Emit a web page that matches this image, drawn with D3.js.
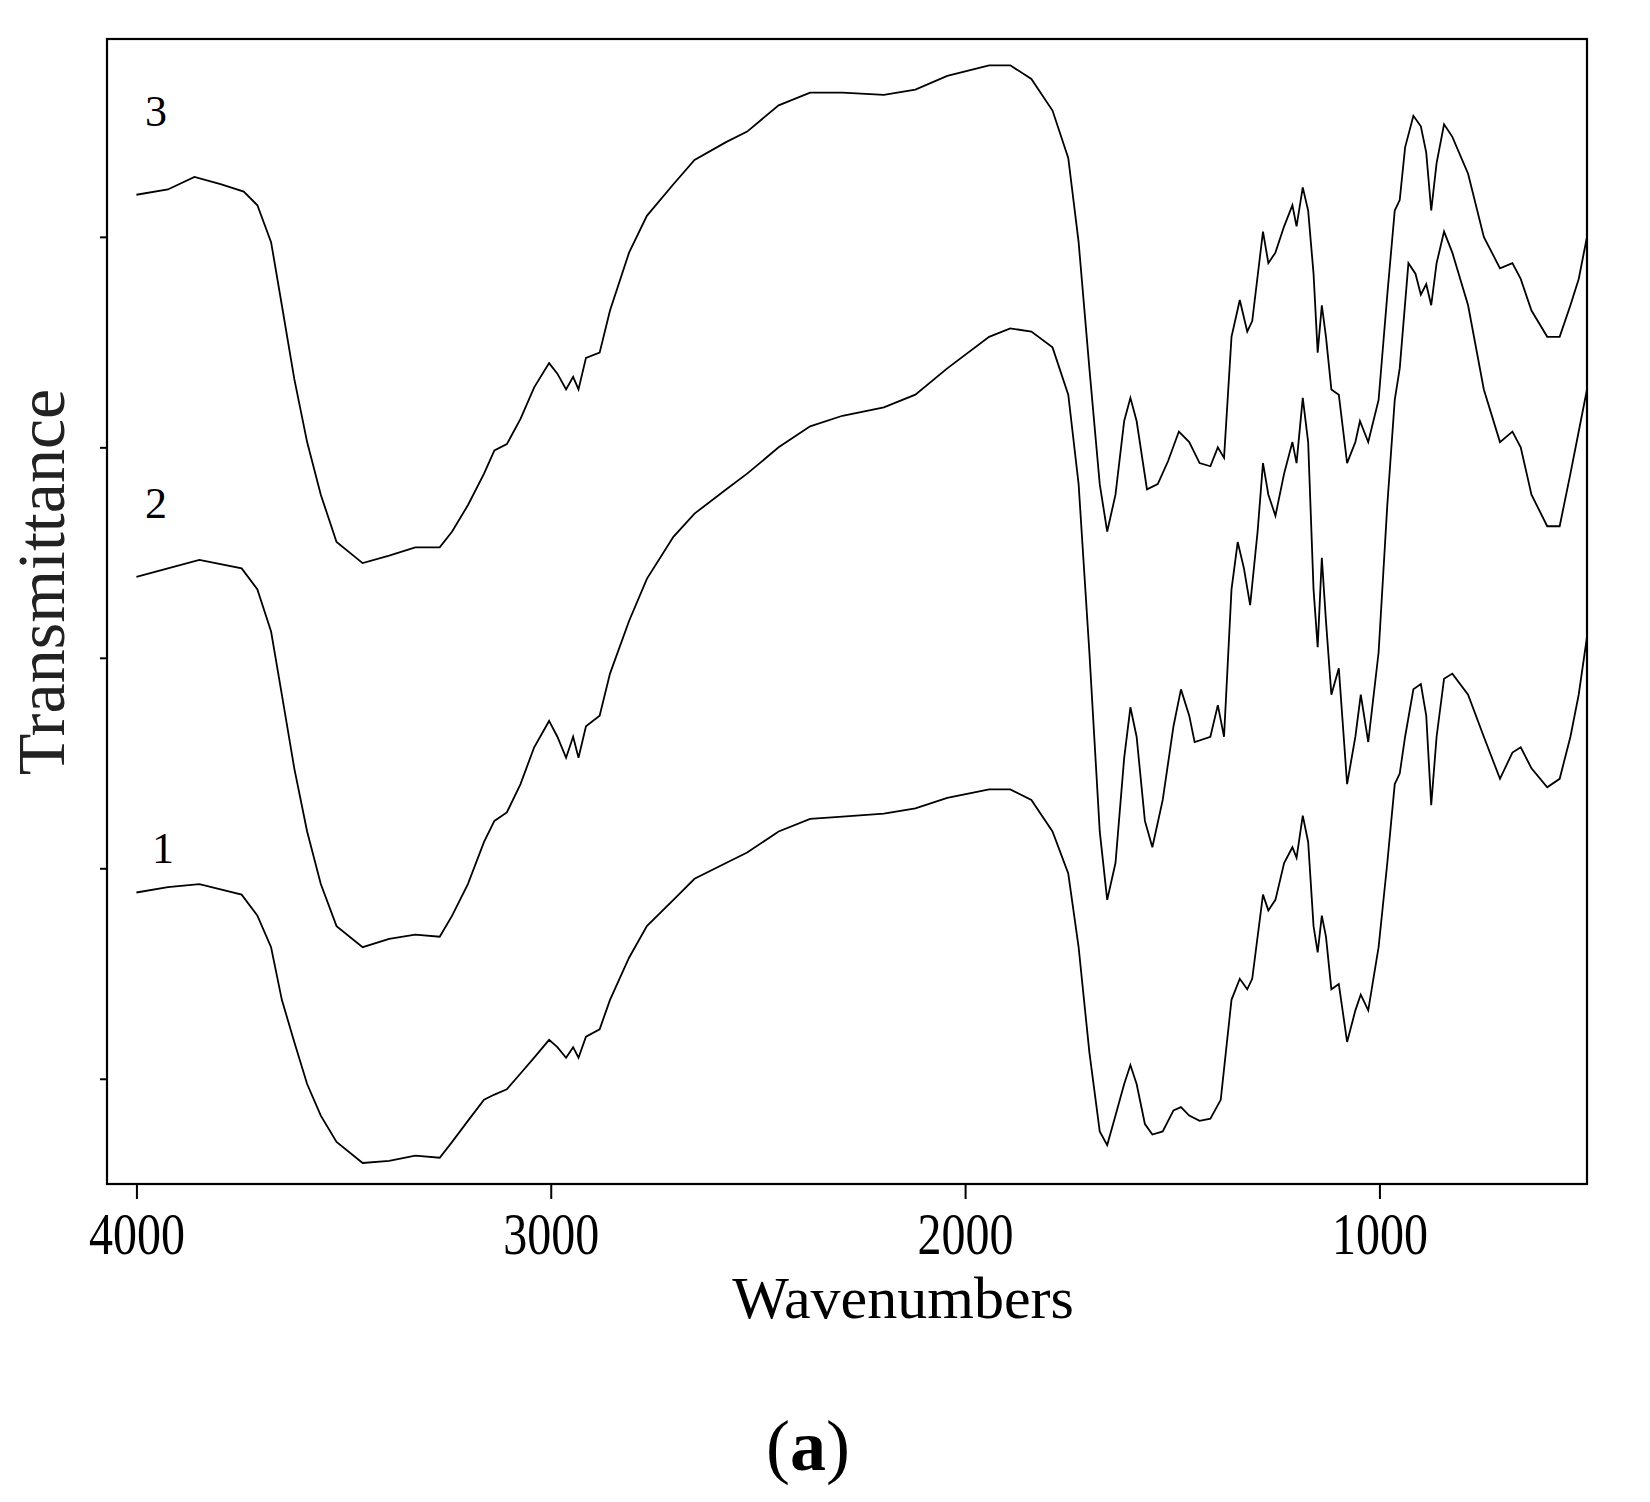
<!DOCTYPE html>
<html><head><meta charset="utf-8">
<script src="https://cdn.jsdelivr.net/npm/d3@7"></script>
<style>body{margin:0;background:#fff}text{font-family:"Liberation Serif","DejaVu Serif",serif}</style>
</head><body><svg id="chart" width="1650" height="1502"></svg>
<script>
// IR spectra, [wavenumber, transmittance]
const spectrum3 = [[4000,94.0],[3924,94.5],[3860,95.7],[3797,95.0],[3741,94.3],[3708,93.0],[3675,89.5],[3649,83.5],[3619,76.5],[3588,70.5],[3555,65.5],[3517,61.0],[3454,59.0],[3390,59.7],[3327,60.5],[3268,60.5],[3238,62.0],[3200,64.5],[3161,67.5],[3136,69.7],[3106,70.3],[3073,72.7],[3040,75.7],[3004,78.0],[2984,77.0],[2963,75.5],[2946,76.7],[2933,75.5],[2915,78.5],[2882,79.0],[2857,83.0],[2811,88.5],[2768,92.0],[2704,95.0],[2653,97.3],[2577,99.0],[2526,100.0],[2450,102.5],[2374,103.7],[2296,103.7],[2196,103.5],[2120,104.0],[2043,105.3],[1942,106.3],[1891,106.3],[1840,105.0],[1789,102.0],[1751,97.5],[1726,89.5],[1700,77.5],[1675,66.5],[1657,62.0],[1637,65.5],[1616,72.5],[1601,74.7],[1586,72.5],[1561,66.0],[1535,66.5],[1510,68.7],[1484,71.5],[1459,70.5],[1434,68.5],[1408,68.2],[1390,70.0],[1375,69.0],[1357,80.5],[1337,84.0],[1319,81.0],[1307,82.0],[1281,90.5],[1268,87.5],[1251,88.5],[1230,91.0],[1210,93.0],[1200,91.0],[1185,94.7],[1172,92.5],[1159,86.5],[1149,79.0],[1139,83.5],[1129,80.5],[1116,75.5],[1098,75.0],[1078,68.5],[1058,70.5],[1047,72.5],[1027,70.5],[1002,74.5],[981,84.5],[963,92.5],[951,93.5],[938,98.5],[918,101.5],[900,100.5],[887,98.0],[875,92.5],[862,97.0],[844,100.7],[824,99.5],[786,96.0],[748,90.0],[709,87.0],[679,87.5],[659,86.0],[633,83.0],[595,80.5],[565,80.5],[539,83.5],[519,86.0],[499,90.0]];

const spectrum2 = [[4000,57.7],[3924,58.5],[3848,59.3],[3746,58.5],[3708,56.5],[3675,52.5],[3649,46.5],[3619,39.5],[3588,33.5],[3555,28.5],[3517,24.5],[3454,22.5],[3390,23.3],[3327,23.7],[3268,23.5],[3238,25.5],[3200,28.5],[3161,32.5],[3136,34.5],[3106,35.3],[3073,38.0],[3040,41.5],[3004,44.0],[2984,42.5],[2963,40.5],[2946,42.5],[2933,40.5],[2915,43.5],[2882,44.5],[2857,48.5],[2811,53.5],[2768,57.5],[2704,61.5],[2653,63.7],[2577,66.0],[2526,67.5],[2450,70.0],[2374,72.0],[2296,73.0],[2196,73.8],[2120,75.0],[2043,77.5],[1942,80.5],[1891,81.3],[1840,81.0],[1789,79.5],[1751,75.0],[1726,66.5],[1700,50.5],[1675,33.5],[1657,27.0],[1637,30.5],[1616,40.5],[1601,45.3],[1586,42.5],[1566,34.5],[1548,32.0],[1523,36.5],[1497,43.5],[1479,47.0],[1459,44.5],[1446,42.0],[1408,42.5],[1390,45.5],[1375,42.5],[1357,56.5],[1342,61.0],[1327,58.5],[1312,55.0],[1294,62.0],[1281,68.5],[1268,65.5],[1251,63.5],[1230,67.5],[1210,70.5],[1200,68.5],[1185,74.7],[1172,70.5],[1159,56.5],[1149,51.0],[1139,59.5],[1129,53.5],[1116,46.5],[1098,49.0],[1078,38.0],[1058,42.5],[1045,46.5],[1027,42.0],[1002,50.5],[981,64.5],[963,74.5],[951,77.5],[930,87.5],[913,86.5],[900,84.5],[887,85.5],[875,83.5],[862,87.5],[844,90.5],[824,88.5],[786,83.5],[748,75.5],[709,70.5],[679,71.5],[659,70.0],[633,65.5],[595,62.5],[565,62.5],[539,67.5],[519,71.5],[499,75.5]];

const spectrum1 = [[4000,27.7],[3924,28.2],[3848,28.5],[3746,27.5],[3708,25.5],[3675,22.5],[3649,17.5],[3619,13.5],[3588,9.5],[3555,6.5],[3517,4.0],[3454,2.0],[3390,2.2],[3327,2.7],[3268,2.5],[3238,4.0],[3200,6.0],[3161,8.0],[3136,8.5],[3106,9.0],[3073,10.5],[3040,12.0],[3004,13.7],[2984,13.0],[2963,12.0],[2946,13.0],[2933,12.0],[2915,14.0],[2882,14.7],[2857,17.5],[2811,21.5],[2768,24.5],[2704,27.0],[2653,29.0],[2577,30.5],[2526,31.5],[2450,33.5],[2374,34.7],[2296,34.9],[2196,35.2],[2120,35.7],[2043,36.7],[1942,37.5],[1891,37.5],[1840,36.5],[1789,33.5],[1751,29.5],[1726,22.5],[1700,12.5],[1675,5.0],[1657,3.7],[1637,6.5],[1616,9.5],[1601,11.3],[1586,9.5],[1566,5.7],[1548,4.7],[1523,5.0],[1497,7.0],[1479,7.3],[1459,6.5],[1434,6.0],[1408,6.2],[1383,8.0],[1357,17.5],[1337,19.5],[1319,18.5],[1307,19.5],[1281,27.5],[1268,26.0],[1251,27.0],[1230,30.5],[1210,32.0],[1200,31.0],[1185,35.0],[1172,32.5],[1159,24.5],[1149,22.0],[1139,25.5],[1129,23.5],[1116,18.5],[1098,19.0],[1078,13.5],[1058,16.5],[1045,18.0],[1027,16.5],[1002,22.5],[981,30.5],[963,38.0],[951,39.0],[938,42.5],[918,47.0],[900,47.5],[887,44.5],[875,36.0],[862,42.5],[844,48.0],[824,48.5],[786,46.5],[748,42.5],[709,38.5],[679,41.0],[659,41.5],[633,39.5],[595,37.7],[565,38.5],[539,42.5],[519,46.5],[499,52.0]];

const seriesNames = ['1', '2', '3'];
const xTicks = [4000, 3000, 2000, 1000];
const yTicks = [10, 30, 50, 70, 90];

const svg = d3.select('#chart');
const L = 107, R = 1587, T = 39, B = 1184;

const x = d3.scaleLinear().domain([4071, 499]).range([L, R]);
const y = d3.scaleLinear().domain([0, 108.8]).range([B, T]);

const line = d3.line().x(d => x(d[0])).y(d => y(d[1]));

[spectrum1, spectrum2, spectrum3].forEach(s => {
  svg.append('path').attr('d', line(s))
    .attr('fill', 'none').attr('stroke', '#000').attr('stroke-width', 1.8);
});

svg.append('rect').attr('x', L).attr('y', T).attr('width', R - L).attr('height', B - T)
  .attr('fill', 'none').attr('stroke', '#000').attr('stroke-width', 2.2);

const xAxis = svg.append('g').attr('transform', `translate(0,${B})`)
  .call(d3.axisBottom(x).tickValues(xTicks).tickFormat(d3.format('d'))
    .tickSize(15).tickSizeOuter(0).tickPadding(12));
xAxis.select('.domain').remove();
xAxis.selectAll('line').attr('stroke-width', 2);
xAxis.selectAll('text').attr('font-size', 60).attr('fill', '#000')
  .attr('font-family', '"Liberation Serif",serif').attr('transform', 'scale(0.8,1)');

const yAxis = svg.append('g').attr('transform', `translate(${L},0)`)
  .call(d3.axisLeft(y).tickValues(yTicks).tickSize(7).tickFormat(''));
yAxis.select('.domain').remove();
yAxis.selectAll('line').attr('stroke-width', 2);

svg.append('text').attr('x', 903).attr('y', 1318).attr('text-anchor', 'middle')
  .attr('font-size', 60).attr('fill', '#000').text('Wavenumbers');

svg.append('text').attr('transform', 'translate(64,582) rotate(-90)')
  .attr('text-anchor', 'middle').attr('font-size', 68).attr('fill', '#222').text('Transmittance');

const labelPos = [[163, 30.5], [156, 63.3], [156, 100.5]];
seriesNames.forEach((n, i) => {
  svg.append('text').attr('x', labelPos[i][0]).attr('y', y(labelPos[i][1]))
    .attr('text-anchor', 'middle').attr('font-size', 44).attr('fill', '#000').text(n);
});

const cap = svg.append('text').attr('x', 808).attr('y', 1470).attr('text-anchor', 'middle')
  .attr('font-size', 72).attr('fill', '#000');
cap.append('tspan').text('(');
cap.append('tspan').attr('font-weight', 'bold').text('a');
cap.append('tspan').text(')');
</script></body></html>
